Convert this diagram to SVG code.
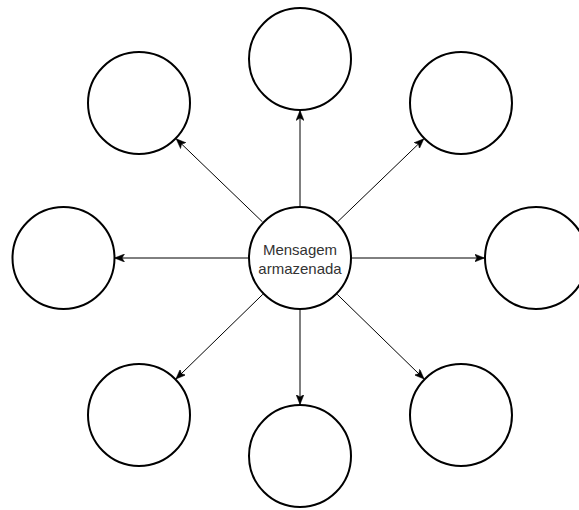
<svg xmlns="http://www.w3.org/2000/svg" width="579" height="510" viewBox="0 0 579 510">
<style>
.n{fill:#fff;stroke:#000;stroke-width:2}
.e{stroke:#000;stroke-width:1;fill:none;marker-end:url(#arr)}
.t{font-family:"Liberation Sans",Arial,sans-serif;font-size:15px;fill:#333;text-anchor:middle}
</style>
<defs>
<marker id="arr" markerUnits="userSpaceOnUse" viewBox="0 0 10 8" refX="9.5" refY="4" markerWidth="10" markerHeight="8" orient="auto">
<path d="M0,0 L10,4 L0,8 L2.5,4 Z" fill="#000" stroke="#000" stroke-width="0.5"/>
</marker>
</defs>
<rect width="579" height="510" fill="#fff"/>
<g id="connectors">
<line class="e" x1="300" y1="206" x2="300" y2="111"/>
<line class="e" x1="300" y1="310" x2="300" y2="404"/>
<line class="e" x1="248" y1="258" x2="115" y2="258"/>
<line class="e" x1="352" y1="258" x2="484" y2="258"/>
<line class="e" x1="262.5" y1="221.9" x2="176.5" y2="139.1"/>
<line class="e" x1="337.5" y1="221.9" x2="423.5" y2="139.1"/>
<line class="e" x1="262.8" y1="294.3" x2="176.2" y2="378.7"/>
<line class="e" x1="337.2" y1="294.3" x2="423.8" y2="378.7"/>
</g>
<g id="center"><circle class="n" cx="300" cy="258" r="51"/>
<text class="t" x="300" y="255">Mensagem</text>
<text class="t" x="300" y="274">armazenada</text></g>
<g id="top"><circle class="n" cx="300" cy="59" r="51"/></g>
<g id="topleft"><circle class="n" cx="139" cy="103" r="51"/></g>
<g id="topright"><circle class="n" cx="461" cy="103" r="51"/></g>
<g id="left"><circle class="n" cx="63.5" cy="258" r="51"/></g>
<g id="right"><circle class="n" cx="536" cy="258" r="51"/></g>
<g id="bottomleft"><circle class="n" cx="139" cy="415" r="51"/></g>
<g id="bottom"><circle class="n" cx="300" cy="456" r="51"/></g>
<g id="bottomright"><circle class="n" cx="461" cy="415" r="51"/></g>
</svg>
